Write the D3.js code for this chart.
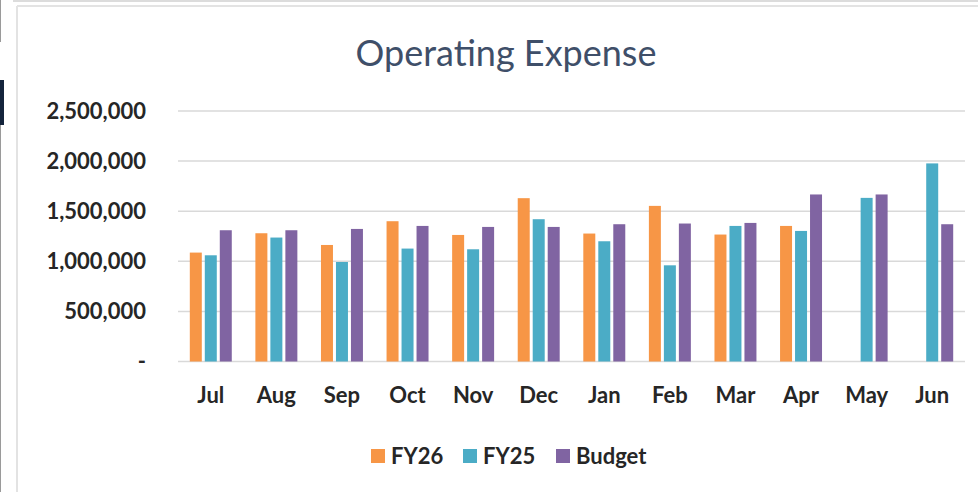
<!DOCTYPE html>
<html>
<head>
<meta charset="utf-8">
<script src="https://cdn.jsdelivr.net/npm/d3@7"></script>
<style>
  body { margin: 0; background: #fff; }
  svg { display: block; font-family: Lato, "Open Sans", sans-serif; }
</style>
</head>
<body>
<div id="container"></div>
<script>
/* DATA */
const months = ["Jul", "Aug", "Sep", "Oct", "Nov", "Dec", "Jan", "Feb", "Mar", "Apr", "May", "Jun"];
const seriesNames = ["FY26", "FY25", "Budget"];
const fy26 = [1087000, 1280000, 1163000, 1400000, 1263000, 1630000, 1277000, 1553000, 1267000, 1353000, null, null];
const fy25 = [1060000, 1237000, 993000, 1127000, 1120000, 1420000, 1200000, 960000, 1353000, 1303000, 1633000, 1977000];
const budget = [1310000, 1310000, 1323000, 1353000, 1343000, 1343000, 1370000, 1377000, 1383000, 1667000, 1667000, 1370000];
const yTicks = [0, 500000, 1000000, 1500000, 2000000, 2500000];

/* CONSTANTS */
const width = 978,
  height = 492,
  margin = { top: 111, bottom: 131, left: 178, right: 13 };
const colors = ["#f79646", "#4bacc6", "#8064a2"];
const labelSize = 22;

const rows = months.map((m, i) => ({ month: m, values: [fy26[i], fy25[i], budget[i]] }));

const svg = d3.select("#container")
  .append("svg")
  .attr("width", width)
  .attr("height", height)

// FRAME BITS FROM THE SCREENSHOT
svg.append("line").attr("x1", 13).attr("x2", width).attr("y1", 1).attr("y2", 1)
  .attr("stroke", "#dcdcdc").attr("stroke-width", 2)
svg.append("line").attr("x1", 17).attr("x2", width).attr("y1", 6).attr("y2", 6)
  .attr("stroke", "#e3e3e3").attr("stroke-width", 2)
svg.append("line").attr("x1", 17).attr("x2", 17).attr("y1", 6).attr("y2", height)
  .attr("stroke", "#e3e3e3").attr("stroke-width", 2)
svg.append("line").attr("x1", 0.5).attr("x2", 0.5).attr("y1", 0).attr("y2", 42)
  .attr("stroke", "#9a9a9a").attr("stroke-width", 1)
svg.append("line").attr("x1", 0.5).attr("x2", 0.5).attr("y1", 125).attr("y2", height)
  .attr("stroke", "#9a9a9a").attr("stroke-width", 1)
svg.append("rect").attr("x", 0).attr("y", 80).attr("width", 4).attr("height", 45)
  .attr("fill", "#14243c")

// SCALES
const x0 = d3.scaleBand()
  .domain(months)
  .range([margin.left, width - margin.right])
  .paddingInner(0.36)
  .paddingOuter(0.18)

const x1 = d3.scaleBand()
  .domain(seriesNames)
  .range([0, x0.bandwidth()])
  .paddingInner(0.2)

const y = d3.scaleLinear()
  .domain([0, 2500000])
  .range([height - margin.bottom + 0.5, margin.top])

// GRIDLINES
svg.append("g")
  .selectAll("line")
  .data(yTicks)
  .join("line")
  .attr("x1", margin.left)
  .attr("x2", width - margin.right)
  .attr("y1", d => y(d))
  .attr("y2", d => y(d))
  .attr("stroke", "#d9d9d9")
  .attr("stroke-width", 1.5)

// Y AXIS
const yAxis = svg.append("g")
  .attr("transform", `translate(${margin.left - 32},0)`)
  .call(d3.axisLeft(y).tickValues(yTicks).tickSize(0).tickPadding(0)
    .tickFormat(d => d === 0 ? "-" : d3.format(",")(d)))
yAxis.select(".domain").remove()
yAxis.selectAll("text")
  .attr("font-size", labelSize)
  .attr("font-weight", 700)
  .attr("font-family", "Lato")
  .attr("fill", "#262626")

// X AXIS
const xAxis = svg.append("g")
  .attr("transform", `translate(0,${y(0)})`)
  .call(d3.axisBottom(x0).tickSize(0).tickPadding(26))
xAxis.select(".domain").remove()
xAxis.selectAll("text")
  .attr("font-size", labelSize)
  .attr("font-weight", 700)
  .attr("font-family", "Lato")
  .attr("fill", "#262626")

// BARS
svg.append("g")
  .selectAll("g")
  .data(rows)
  .join("g")
  .attr("transform", d => `translate(${x0(d.month)},0)`)
  .selectAll("rect")
  .data(d => d.values.map((v, i) => ({ key: seriesNames[i], value: v, i })).filter(d => d.value != null))
  .join("rect")
  .attr("x", d => x1(d.key))
  .attr("width", x1.bandwidth())
  .attr("y", d => y(d.value))
  .attr("height", d => y(0) - y(d.value))
  .attr("fill", d => colors[d.i])

// TITLE
svg.append("text")
  .attr("x", 506)
  .attr("y", 66)
  .attr("text-anchor", "middle")
  .attr("font-size", 36)
  .attr("font-family", "Lato")
  .attr("fill", "#3f4f69")
  .text("Operating Expense")

// LEGEND
const legendX = [371, 463, 556];
const legend = svg.append("g")
  .selectAll("g")
  .data(seriesNames)
  .join("g")
  .attr("transform", (d, i) => `translate(${legendX[i]},449)`)
legend.append("rect")
  .attr("width", 14)
  .attr("height", 14)
  .attr("fill", (d, i) => colors[i])
legend.append("text")
  .attr("x", 20)
  .attr("y", 14.5)
  .attr("font-size", labelSize)
  .attr("font-weight", 700)
  .attr("fill", "#262626")
  .text(d => d)
</script>
</body>
</html>
